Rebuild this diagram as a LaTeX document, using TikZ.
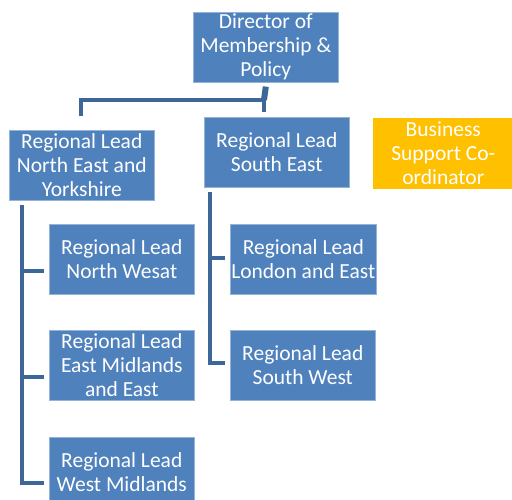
\documentclass[tikz,border=0pt]{standalone}
\usepackage{fontspec}
\setmainfont{Carlito}
\definecolor{boxblue}{HTML}{4F81BD}
\definecolor{linkblue}{HTML}{3D6699}
\definecolor{gold}{HTML}{FFC000}
\begin{document}
\begin{tikzpicture}[x=1pt,y=-1pt,
  orgbox/.style={fill=boxblue, draw=boxblue!60!white, line width=0.6pt,
    minimum width=145pt, minimum height=70pt, inner sep=1pt,
    text=white, align=center, font=\fontsize{21.5}{24}\selectfont},
  supportbox/.style={orgbox, fill=gold, draw=gold, minimum width=140pt},
  link/.style={draw=linkblue, line width=4pt}]
\useasboundingbox (0,0) rectangle (512,499);
\fill[white] (0,0) rectangle (512,499);

% boxes (anchor north west, y grows downward)
\node[orgbox, anchor=north west] (dir) at (193,12) {Director of\\Membership \&\\Policy};
\node[orgbox, anchor=north west] (ney) at (9,130) {Regional Lead\\North East and\\Yorkshire};
\node[orgbox, anchor=north west] (se) at (204,117) {Regional Lead\\South East};
\node[supportbox, anchor=north west] (bsc) at (373,118) {Business\\Support Co-\\ordinator};
\node[orgbox, anchor=north west] (nw) at (49,224) {Regional Lead\\North Wesat};
\node[orgbox, anchor=north west] (em) at (49,330) {Regional Lead\\East Midlands\\and East};
\node[orgbox, anchor=north west] (wm) at (49,437) {Regional Lead\\West Midlands};
\node[orgbox, anchor=north west] (le) at (230,224) {Regional Lead\\London and East};
\node[orgbox, anchor=north west] (sw) at (230,330) {Regional Lead\\South West};

% director to its two direct reports
\coordinate (bar) at (264,100);
\coordinate (neydrop) at (81,116);
\draw[draw=linkblue, line width=6pt] ([yshift=-4]dir.south) -- (bar);
\draw[link] (bar) -- ([yshift=5]se.north -| bar);
\draw[link, line join=miter] ([xshift=2]bar) -- (bar -| neydrop) -- (neydrop);

% North East and Yorkshire branch
\coordinate (ntop) at (22,205);
\coordinate (nbot) at (22,485);
\draw[link] (ntop) -- (nbot);
\draw[link] (22,271) -- (44,271);
\draw[link] (22,377) -- (44,377);
\draw[link, line join=miter] (22,483) -- (44,483);

% South East branch
\coordinate (stop) at (210,192);
\draw[link] (stop) -- (210,365);
\draw[link] (210,258) -- (225,258);
\draw[link] (210,363) -- (225,363);
\end{tikzpicture}
\end{document}
